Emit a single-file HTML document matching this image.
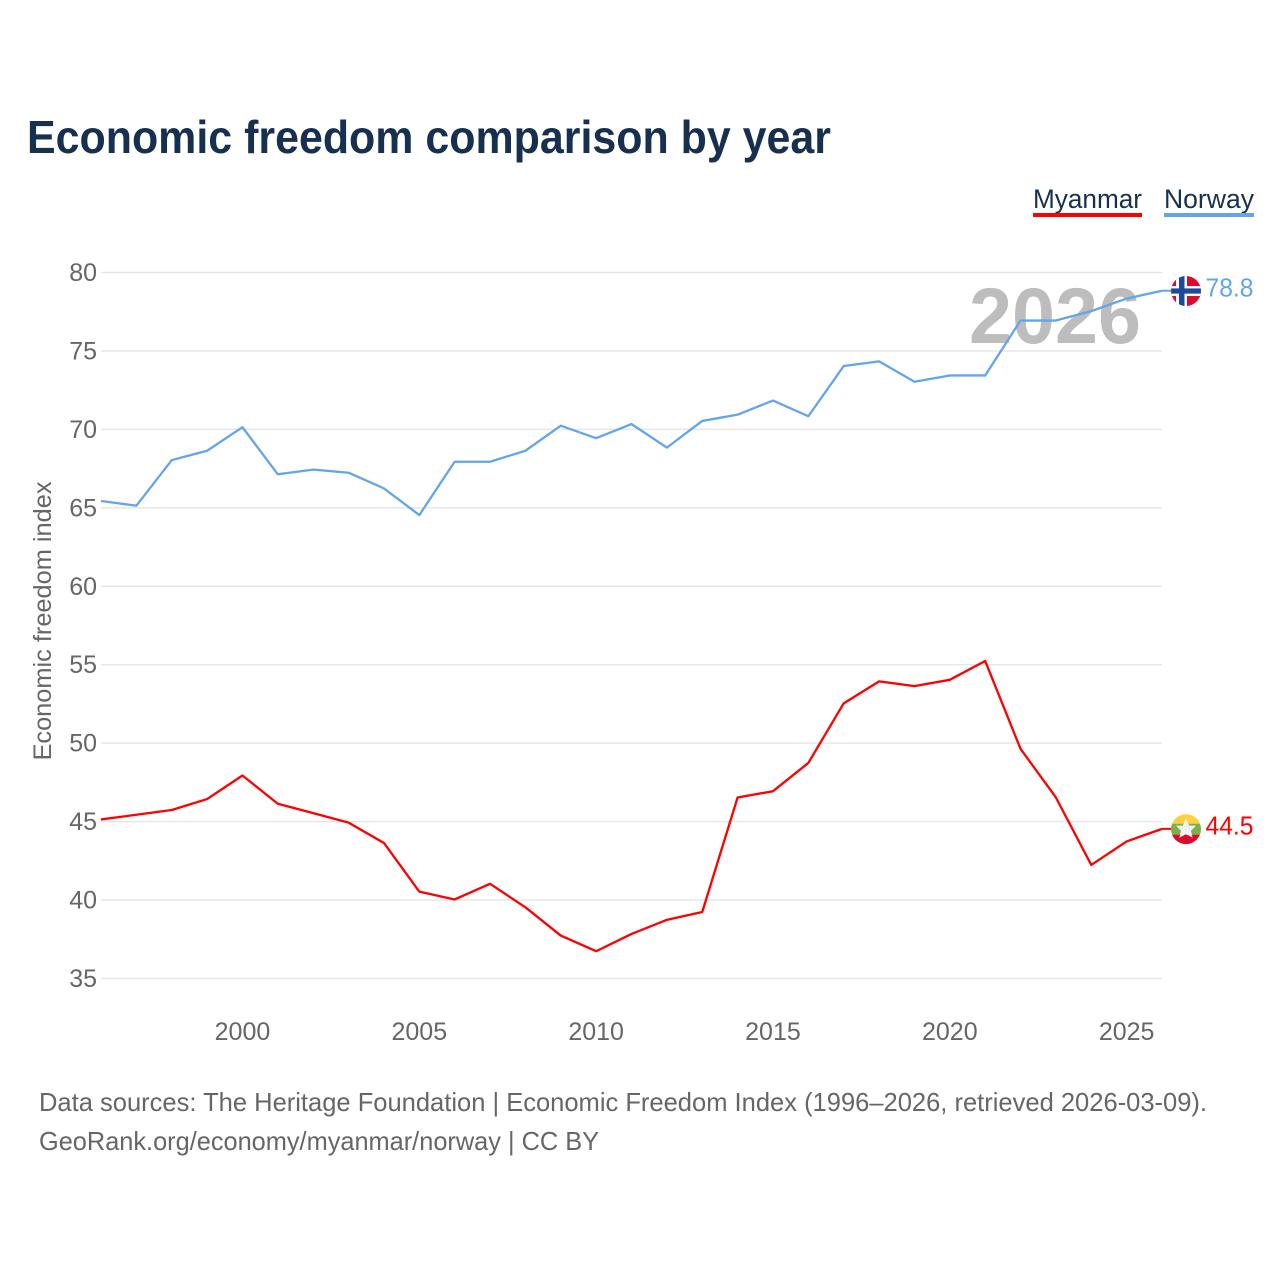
<!DOCTYPE html>
<html lang="en">
<head>
<meta charset="utf-8">
<title>Economic freedom comparison by year</title>
<style>
html,body{margin:0;padding:0;background:#fff;}
svg{display:block;font-family:"Liberation Sans",Arial,sans-serif;}
</style>
</head>
<body>
<svg id="chart" xmlns="http://www.w3.org/2000/svg" width="1280" height="1280" viewBox="0 0 1280 1280">
  <rect width="1280" height="1280" fill="#ffffff"/>
  <text x="27" y="153" font-size="46" font-weight="700" fill="#18304f" textLength="804" lengthAdjust="spacingAndGlyphs">Economic freedom comparison by year</text>

  <g>
    <g>
      <text x="1033" y="208" font-size="27" fill="#18304f" textLength="109" lengthAdjust="spacingAndGlyphs">Myanmar</text>
      <rect x="1033" y="213" width="109" height="4" fill="#ff0000"/>
    </g>
    <g>
      <text x="1164" y="208" font-size="27" fill="#18304f" textLength="90" lengthAdjust="spacingAndGlyphs">Norway</text>
      <rect x="1164" y="213" width="90" height="4" fill="#63a5eb"/>
    </g>
  </g>

  <g id="grid"></g>
  <g id="yticks"></g>
  <g id="xticks"></g>

  <text x="969" y="343" font-size="79" font-weight="700" fill="#bdbdbd" textLength="172" lengthAdjust="spacingAndGlyphs">2026</text>

  <text transform="translate(51,621) rotate(-90)" text-anchor="middle" font-size="25" fill="#666666" textLength="279" lengthAdjust="spacingAndGlyphs">Economic freedom index</text>

  <g id="series"></g>

  <g id="flag-norway">
    <clipPath id="clip-no"><circle cx="0" cy="0" r="15"/></clipPath>
    <g clip-path="url(#clip-no)">
      <rect x="-15" y="-15" width="30" height="30" fill="#dc0a2d"/>
      <rect x="-10" y="-15" width="11" height="30" fill="#ffffff"/>
      <rect x="-15" y="-5" width="30" height="10" fill="#ffffff"/>
      <rect x="-7" y="-15" width="5.5" height="30" fill="#1b4a9c"/>
      <rect x="-15" y="-2.6" width="30" height="5.2" fill="#1b4a9c"/>
    </g>
  </g>
  <g id="flag-myanmar">
    <clipPath id="clip-mm"><circle cx="0" cy="0" r="15"/></clipPath>
    <g clip-path="url(#clip-mm)">
      <rect x="-15" y="-15" width="30" height="9.5" fill="#fed23f"/>
      <rect x="-15" y="-5.5" width="30" height="11" fill="#7eb04a"/>
      <rect x="-15" y="5.5" width="30" height="9.5" fill="#db0a2d"/>
      <polygon points="0,-10.5 3.2,-3.5 10,-3.5 5,1.6 6.6,8.6 0,5 -6.6,8.6 -5,1.6 -10,-3.5 -3.2,-3.5" fill="#f2f2f2"/>
    </g>
  </g>

  <g id="end-labels"></g>

  <text x="39" y="1111" font-size="26" fill="#666666" textLength="1168" lengthAdjust="spacingAndGlyphs">Data sources: The Heritage Foundation | Economic Freedom Index (1996–2026, retrieved 2026-03-09).</text>
  <text x="39" y="1150" font-size="26" fill="#666666" textLength="560" lengthAdjust="spacingAndGlyphs">GeoRank.org/economy/myanmar/norway | CC BY</text>
</svg>
<script>
const years = [1996,1997,1998,1999,2000,2001,2002,2003,2004,2005,2006,2007,2008,2009,2010,2011,2012,2013,2014,2015,2016,2017,2018,2019,2020,2021,2022,2023,2024,2025,2026];
const norwayValues = [65.4,65.1,68.0,68.6,70.1,67.1,67.4,67.2,66.2,64.5,67.9,67.9,68.6,70.2,69.4,70.3,68.8,70.5,70.9,71.8,70.8,74.0,74.3,73.0,73.4,73.4,76.9,76.9,77.5,78.3,78.8];
const myanmarValues = [45.1,45.4,45.7,46.4,47.9,46.1,45.5,44.9,43.6,40.5,40.0,41.0,39.5,37.7,36.7,37.8,38.7,39.2,46.5,46.9,48.7,52.5,53.9,53.6,54.0,55.2,49.6,46.5,42.2,43.7,44.5];
const yTickValues = [35,40,45,50,55,60,65,70,75,80];
const xTickValues = [2000,2005,2010,2015,2020,2025];

const NS = 'http://www.w3.org/2000/svg';
function xScale(year){ return 101 + (year - 1996) * (1162 - 101) / 30; }
function yScale(v){ return 272.5 + (80 - v) * (978.5 - 272.5) / 45; }
function make(tag, attrs, text){
  const el = document.createElementNS(NS, tag);
  for (const k in attrs) el.setAttribute(k, attrs[k]);
  if (text !== undefined) el.textContent = text;
  return el;
}

const grid = document.getElementById('grid');
const yticks = document.getElementById('yticks');
yTickValues.forEach(function(v){
  const line = make('line', {x1:101, x2:1162, y1:yScale(v), y2:yScale(v), stroke:'#e7e7e7', 'stroke-width':1.5});
  
  
  grid.appendChild(line);
  const label = make('text', {x:97, y:yScale(v) + 8.5, 'text-anchor':'end', 'font-size':25, fill:'#666666'}, String(v));
  
  
  yticks.appendChild(label);
});

const xticks = document.getElementById('xticks');
xTickValues.forEach(function(y){
  const label = make('text', {x:xScale(y), y:1040, 'text-anchor':'middle', 'font-size':25, fill:'#666666'}, String(y));
  
  
  xticks.appendChild(label);
});

const seriesGroup = document.getElementById('series');
seriesGroup.setAttribute('transform', 'translate(0,-0.6)');
function drawSeries(name, values, color){
  const d = values.map(function(v, i){
    return (i ? 'L' : 'M') + xScale(years[i]).toFixed(2) + ' ' + yScale(v).toFixed(2);
  }).join(' ');
  const path = make('path', {d:d, fill:'none', stroke:color, 'stroke-width':2.3, 'stroke-linejoin':'round'});
  
  
  seriesGroup.appendChild(path);

  const last = values[values.length - 1];
  const lastX = xScale(years[years.length - 1]);
  const connector = make('line', {x1:lastX, x2:lastX + 10, y1:yScale(last), y2:yScale(last), stroke:color, 'stroke-width':2});
  
  
  seriesGroup.appendChild(connector);

  document.getElementById('flag-' + name).setAttribute('transform', 'translate(1186,' + (yScale(last) - 0.3) + ')');

  const label = make('text', {x:1205.5, y:yScale(last) + 5, 'font-size':26, fill:color, textLength:48, lengthAdjust:'spacingAndGlyphs'}, last.toFixed(1));
  
  
  document.getElementById('end-labels').appendChild(label);
}
drawSeries('norway', norwayValues, '#63a5eb');
drawSeries('myanmar', myanmarValues, '#ff0000');
</script>
</body>
</html>
